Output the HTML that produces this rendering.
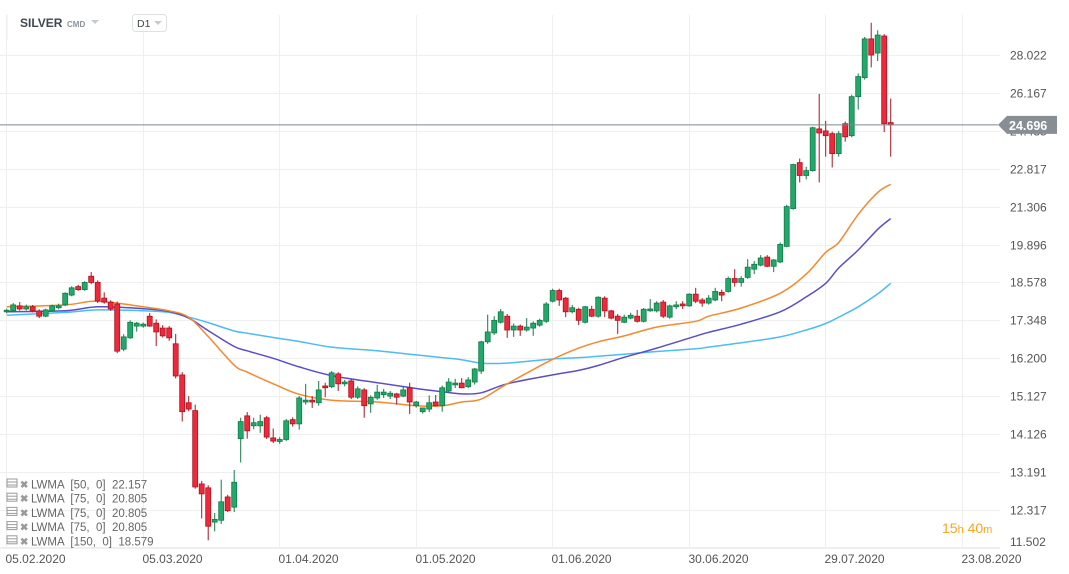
<!DOCTYPE html>
<html><head><meta charset="utf-8"><style>
body{margin:0;background:#fff;width:1069px;height:574px;overflow:hidden;font-family:"Liberation Sans",sans-serif}
svg{position:absolute;left:0;top:0}
</style></head><body>
<svg id="chart" width="1069" height="574">
<g id="grid"></g><g id="mas"></g><g id="candles"></g><g id="axes"></g>
<g>
<line x1="7" y1="15" x2="7" y2="40" stroke="#eee"/>
<text x="20" y="27" font-size="12" font-weight="bold" fill="#3d4852">SILVER</text>
<text x="67" y="27" font-size="8" fill="#8a939b" font-weight="bold">CMD</text>
<path d="M91 20 L99 20 L95 24 Z" fill="#c5cbd0"/>
<rect x="132.5" y="14.5" width="34" height="17" rx="3" fill="#fff" stroke="#dde1e4"/>
<text x="137" y="27" font-size="10.5" fill="#444">D1</text>
<path d="M154 21 L162 21 L158 25 Z" fill="#c5cbd0"/>
</g>
<g id="legend"></g>
<text x="942" y="533" font-size="14" fill="#f5a623">15<tspan font-size="11">h</tspan> 40<tspan font-size="11">m</tspan></text>
</svg>
<script>
const NS="http://www.w3.org/2000/svg";
const opens=[17.62,17.65,17.81,17.71,17.78,17.65,17.48,17.65,17.75,17.84,18.16,18.44,18.34,18.79,18.58,18.06,17.93,17.87,16.47,16.81,17.17,17.17,17.48,17.26,17.11,17.11,16.63,15.72,14.95,14.74,12.91,12.82,12.05,12.09,12.61,12.38,14.01,14.60,14.34,14.34,14.55,14.03,13.94,13.99,14.50,14.39,14.97,15.02,14.95,15.41,15.39,15.75,15.47,15.55,15.10,15.30,14.92,15.08,15.17,15.13,15.19,15.13,15.36,14.87,14.71,14.78,14.97,14.87,15.27,15.44,15.49,15.39,15.52,15.83,16.69,16.96,17.29,17.48,17.05,17.17,17.05,17.11,17.20,17.32,17.96,18.31,18.06,17.62,17.70,17.29,17.70,17.48,18.06,17.65,17.48,17.29,17.42,17.48,17.32,17.65,17.65,17.93,17.45,17.78,17.87,17.81,18.19,18.00,17.90,18.00,18.25,18.28,18.71,18.58,18.75,19.03,19.17,19.45,19.13,19.28,19.83,21.23,23.07,22.54,22.74,24.52,24.43,24.31,23.45,24.75,24.22,25.99,26.90,28.85,28.12,29.00,24.80];
const highs=[17.72,17.90,17.93,17.85,17.84,17.70,17.72,17.85,17.88,18.25,18.45,18.50,18.62,18.93,18.65,18.25,17.99,17.95,16.92,17.35,17.30,17.28,17.58,17.38,17.20,17.17,16.93,15.80,15.13,14.90,12.98,12.88,12.25,13.01,12.66,13.24,14.55,14.70,14.55,14.63,14.60,14.27,14.05,14.52,14.56,15.13,15.47,15.13,15.55,15.50,15.83,15.80,15.58,15.60,15.40,15.35,15.15,15.44,15.33,15.27,15.22,15.39,15.50,15.00,14.80,15.15,15.16,15.42,15.63,15.61,15.63,15.66,15.92,16.72,17.53,17.48,17.71,17.55,17.25,17.22,17.42,17.32,17.40,17.93,18.37,18.37,18.10,17.84,17.75,17.81,17.81,18.12,18.12,17.68,17.55,17.53,17.59,17.68,17.74,18.03,17.96,18.00,17.85,17.96,17.96,18.22,18.40,18.06,18.16,18.40,18.34,18.78,19.03,18.79,19.38,19.31,19.52,19.52,19.38,19.97,21.38,23.03,23.24,22.90,24.62,26.12,24.88,24.40,24.43,24.85,26.08,27.10,28.95,29.70,29.30,29.10,25.90];
const lows=[17.57,17.60,17.66,17.66,17.60,17.42,17.45,17.62,17.70,17.80,18.12,18.30,18.30,18.52,17.90,17.88,17.65,16.35,16.41,16.78,17.00,17.12,17.15,16.56,16.82,16.72,15.62,14.45,14.72,12.80,12.13,11.66,11.85,12.01,12.27,12.27,13.42,14.01,14.25,14.16,14.00,13.90,13.88,13.95,14.32,14.24,14.90,14.81,14.87,15.10,15.35,15.27,15.40,15.05,15.05,14.55,14.68,15.03,15.08,15.05,14.90,15.10,14.65,14.82,14.66,14.70,14.85,14.71,15.22,15.35,15.35,15.35,15.45,15.75,16.63,16.90,17.25,16.81,16.84,16.87,17.00,16.87,17.15,17.27,17.92,17.81,17.45,17.57,17.20,17.25,17.45,17.43,17.45,17.38,16.93,17.26,17.38,17.28,17.28,17.62,17.60,17.42,17.40,17.70,17.71,17.78,17.90,17.78,17.85,17.96,17.96,18.24,18.44,18.44,18.70,18.86,19.13,19.10,18.93,19.24,19.80,21.19,22.26,22.38,22.70,22.26,23.32,22.87,23.32,23.96,24.15,25.39,26.80,27.40,27.72,24.38,23.32];
const closes=[17.67,17.84,17.71,17.78,17.65,17.48,17.68,17.81,17.81,18.22,18.40,18.34,18.58,18.58,17.97,17.93,17.71,16.41,16.84,17.29,17.26,17.23,17.17,16.99,16.87,16.81,15.69,14.71,14.78,12.84,12.68,11.96,12.11,12.50,12.30,12.95,14.45,14.21,14.42,14.45,14.05,13.95,13.99,14.47,14.39,15.08,15.02,14.97,15.30,15.36,15.78,15.47,15.52,15.10,15.33,14.87,15.10,15.24,15.24,15.21,15.10,15.30,14.97,14.97,14.81,14.95,14.87,15.36,15.52,15.49,15.36,15.58,15.89,16.69,16.99,17.35,17.62,17.05,17.17,17.05,17.14,17.26,17.35,17.87,18.31,18.00,17.62,17.75,17.35,17.78,17.48,18.09,17.65,17.42,17.35,17.45,17.51,17.32,17.70,17.71,17.90,17.48,17.81,17.84,17.81,18.19,17.96,17.90,18.06,18.28,18.16,18.71,18.58,18.71,19.10,19.20,19.42,19.13,19.35,19.90,21.31,22.99,22.54,22.74,24.57,24.34,24.22,23.45,24.31,24.17,25.99,26.95,28.85,28.02,29.05,24.75,24.70];
const maIdx=[0,9,14,21,25,28,31,35,37,41,45,50,57,63,67,70,73,77,84,88,91,95,100,106,108,113,119,123,126,128,131,134,136];
const lwma50=[17.78,17.84,17.96,17.78,17.65,17.45,16.85,16.00,15.80,15.47,15.18,15.02,14.97,14.87,14.87,14.97,15.05,15.47,16.17,16.50,16.69,16.87,17.14,17.32,17.48,17.74,18.22,18.86,19.62,19.97,21.01,21.86,22.18];
const lwma75=[17.62,17.65,17.78,17.72,17.63,17.42,17.03,16.55,16.42,16.20,15.95,15.70,15.50,15.34,15.25,15.19,15.22,15.47,15.72,15.85,15.99,16.23,16.50,16.86,16.98,17.23,17.62,18.10,18.55,19.07,19.70,20.45,20.85];
const lwma150=[17.51,17.60,17.68,17.65,17.60,17.45,17.28,17.02,16.95,16.82,16.70,16.53,16.42,16.30,16.22,16.16,16.06,16.06,16.18,16.22,16.26,16.32,16.40,16.48,16.53,16.66,16.84,17.05,17.25,17.45,17.78,18.20,18.55];
const yTicks=[28.022,26.167,24.435,22.817,21.306,19.896,18.578,17.348,16.200,15.127,14.126,13.191,12.317,11.502];
const xLabels=["05.02.2020","05.03.2020","01.04.2020","01.05.2020","01.06.2020","30.06.2020","29.07.2020","23.08.2020"];
const xLabelIdx=[0,21,42,63,84,105,126,147];
const lastPrice=24.696;
const legendItems=["LWMA  [50,  0]  22.157","LWMA  [75,  0]  20.805","LWMA  [75,  0]  20.805","LWMA  [75,  0]  20.805","LWMA  [150,  0]  18.579"];

const X=i=>6.7+i*6.5;
const Y=p=>1899.8-553.5*Math.log(p);
function mk(tag,attrs,parent){const e=document.createElementNS(NS,tag);for(const k in attrs)e.setAttribute(k,attrs[k]);parent.appendChild(e);return e;}
const grid=document.getElementById('grid'),axes=document.getElementById('axes');
yTicks.forEach((t,i)=>{
 const y=Math.round(Y(t))+0.5;
 const gl=mk('line',{x1:0,x2:1000,y1:y,y2:y,stroke:'#efefef'},grid);
 
 
 const tx=mk('text',{x:1010,y:Math.min(y+4,546),'font-size':12,fill:'#555'},axes);
 
 
 tx.textContent=t.toFixed(3);
});
xLabelIdx.forEach((ix,i)=>{
 const x=Math.round(X(ix)-0.5)+0.5;
 const gl=mk('line',{x1:x,x2:x,y1:15,y2:548,stroke:'#efefef'},grid);
 
 
 const tx=mk('text',{x:x-1,y:563,'font-size':12,fill:'#555'},axes);
 
 
 tx.textContent=xLabels[i];
});
const bl=mk('line',{x1:0,x2:1000,y1:547.5,y2:547.5,stroke:'#eee'},grid);


const mas=document.getElementById('mas');
function smoothPath(pts){
 let d=`M${pts[0][0].toFixed(1)} ${pts[0][1].toFixed(1)}`;
 for(let i=0;i<pts.length-1;i++){
  const p0=pts[Math.max(i-1,0)],p1=pts[i],p2=pts[i+1],p3=pts[Math.min(i+2,pts.length-1)];
  const c1=[p1[0]+(p2[0]-p0[0])/6,p1[1]+(p2[1]-p0[1])/6];
  const c2=[p2[0]-(p3[0]-p1[0])/6,p2[1]-(p3[1]-p1[1])/6];
  d+=` C${c1[0].toFixed(1)} ${c1[1].toFixed(1)} ${c2[0].toFixed(1)} ${c2[1].toFixed(1)} ${p2[0].toFixed(1)} ${p2[1].toFixed(1)}`;
 }
 return d;
}
[[lwma150,'#4cbcf2','lwma-150-line'],[lwma75,'#5a4ec8','lwma-75-line'],[lwma50,'#f5892d','lwma-50-line']].forEach(([arr,c,n])=>{
 const pts=arr.map((v,i)=>[X(maIdx[i]),Y(v)]);
 const pl=mk('path',{d:smoothPath(pts),fill:'none',stroke:c,'stroke-width':1.5},mas);
 
 
});
const cg=document.getElementById('candles');
opens.forEach((o,i)=>{
 const c=closes[i],up=c>=o,x=X(i);
 const g=mk('g',{},cg);
 
 
 mk('line',{x1:x,x2:x,y1:Y(highs[i]),y2:Y(lows[i]),stroke:up?'#137a47':'#a8141f','stroke-width':1},g);
 const t=Y(Math.max(o,c)),b=Y(Math.min(o,c));
 mk('rect',{x:x-2.5,y:t,width:5,height:Math.max(b-t,1.5),fill:up?'#22a86b':'#f0283c',stroke:up?'#137a47':'#a8141f','stroke-width':0.8},g);
});
const py=Y(lastPrice);
const pl=mk('line',{x1:0,x2:998,y1:py,y2:py,stroke:'#7d878e','stroke-width':1},axes);


const tag=mk('path',{d:`M998 ${py} L1007 ${py-9} L1057 ${py-9} L1057 ${py+9} L1007 ${py+9} Z`,fill:'#878f95'},axes);


const pt=mk('text',{x:1009,y:py+5,'font-size':12.5,'font-weight':'bold',fill:'#fff'},axes);


pt.textContent=lastPrice.toFixed(3);
const lg=document.getElementById('legend');
legendItems.forEach((s,i)=>{
 const y=485+i*14.2;
 const ic=mk('g',{},lg);
 
 
 mk('rect',{x:7,y:y-6,width:10,height:8,fill:'#fff',stroke:'#9a9a9a','stroke-width':1},ic);
 mk('line',{x1:7,x2:17,y1:y-3,y2:y-3,stroke:'#9a9a9a'},ic);
 mk('line',{x1:7,x2:17,y1:y,y2:y,stroke:'#9a9a9a'},ic);
 const xm=mk('text',{x:20,y:y+3,'font-size':10,fill:'#9a9a9a','font-weight':'bold'},lg);
 
 
 xm.textContent='✖';
 const t=mk('text',{x:31,y:y+3.5,'font-size':11.5,fill:'#666'},lg);
 
 
 t.style.whiteSpace='pre';
 t.textContent=s;
});
</script>
</body></html>
